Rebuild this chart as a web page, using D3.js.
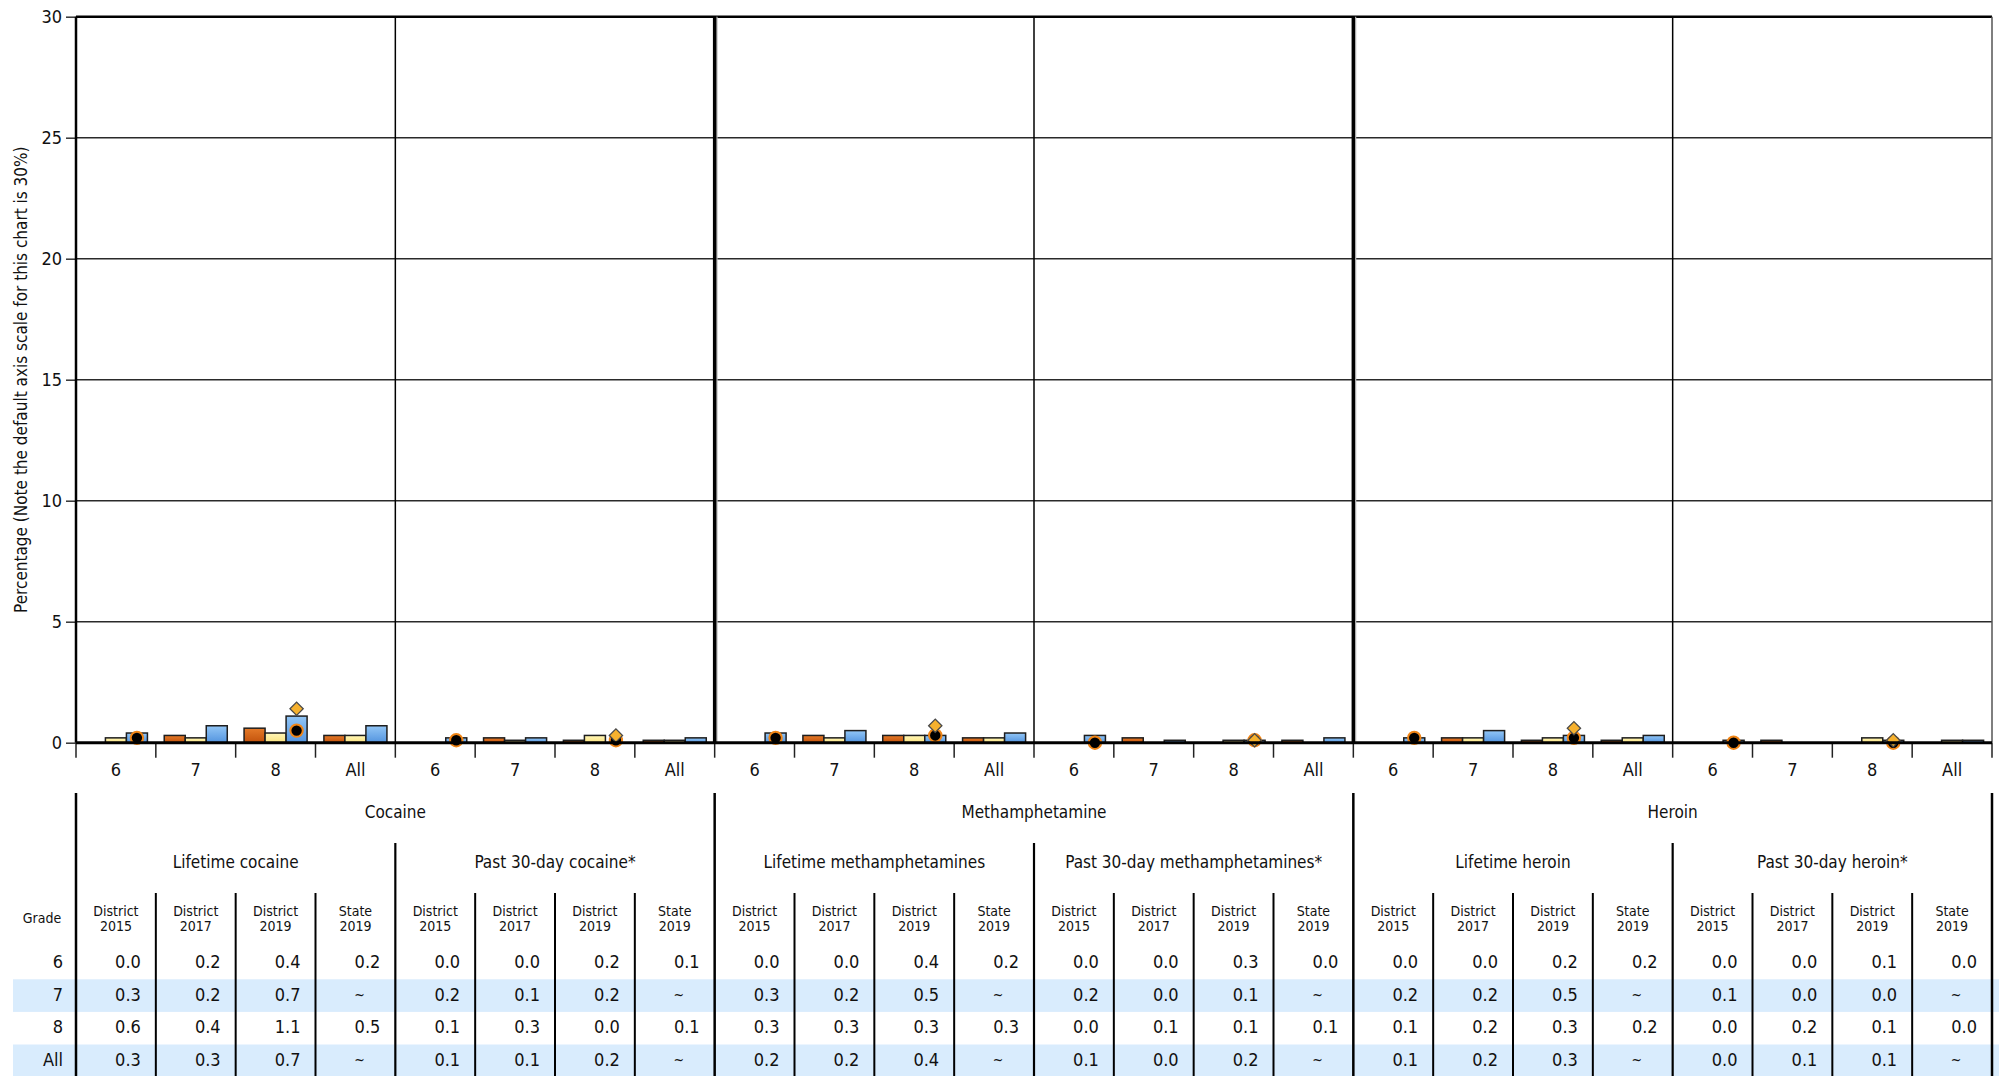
<!DOCTYPE html>
<html><head><meta charset="utf-8">
<script src="https://cdn.jsdelivr.net/npm/d3@7"></script>
<style>
html,body{margin:0;padding:0;background:#fff;}
svg{display:block;font-family:"Liberation Sans Narrow","DejaVu Sans Condensed",sans-serif;}
</style></head>
<body>
<svg id="chart" width="1999" height="1076"></svg>
<script>
// ---------- DATA ----------
const grades = ["6", "7", "8", "All"];
const series = ["District 2015", "District 2017", "District 2019", "State 2019"];
const drugs = ["Cocaine", "Methamphetamine", "Heroin"];
const measures = ["Lifetime cocaine", "Past 30-day cocaine*", "Lifetime methamphetamines",
  "Past 30-day methamphetamines*", "Lifetime heroin", "Past 30-day heroin*"];
const yTicks = [0, 5, 10, 15, 20, 25, 30];
// values[grade][series]; null = "~"
const lifetimeCocaine = [[0.0, 0.2, 0.4, 0.2], [0.3, 0.2, 0.7, null], [0.6, 0.4, 1.1, 0.5], [0.3, 0.3, 0.7, null]];
const past30Cocaine   = [[0.0, 0.0, 0.2, 0.1], [0.2, 0.1, 0.2, null], [0.1, 0.3, 0.0, 0.1], [0.1, 0.1, 0.2, null]];
const lifetimeMeth    = [[0.0, 0.0, 0.4, 0.2], [0.3, 0.2, 0.5, null], [0.3, 0.3, 0.3, 0.3], [0.2, 0.2, 0.4, null]];
const past30Meth      = [[0.0, 0.0, 0.3, 0.0], [0.2, 0.0, 0.1, null], [0.0, 0.1, 0.1, 0.1], [0.1, 0.0, 0.2, null]];
const lifetimeHeroin  = [[0.0, 0.0, 0.2, 0.2], [0.2, 0.2, 0.5, null], [0.1, 0.2, 0.3, 0.2], [0.1, 0.2, 0.3, null]];
const past30Heroin    = [[0.0, 0.0, 0.1, 0.0], [0.1, 0.0, 0.0, null], [0.0, 0.2, 0.1, 0.0], [0.0, 0.1, 0.1, null]];
// comparison marker (diamond) shown for grade 8 only
const national8 = [1.4, 0.3, 0.7, 0.1, 0.6, 0.1];

const tableData = [lifetimeCocaine, past30Cocaine, lifetimeMeth, past30Meth, lifetimeHeroin, past30Heroin];

// ---------- LAYOUT ----------
const FONT = "'Liberation Sans Narrow','DejaVu Sans Condensed',sans-serif";
const svg = d3.select("#chart");
const X0 = 76, X1 = 1992, YT = 16.7, YB = 742.7;
const y = d3.scaleLinear().domain([0, 30]).range([YB, YT]);
const xPanel = d3.scaleBand().domain(measures).range([X0, X1]);
const pw = xPanel.bandwidth();
const xGrade = d3.scaleBand().domain(grades).range([0, pw]);
const gw = xGrade.bandwidth();
const xSeries = d3.scaleBand().domain(series.slice(0, 3)).range([0, gw]).paddingInner(0).paddingOuter(0.4);
const xDrug = d3.scaleBand().domain(drugs).range([X0, X1]);

const defs = svg.append("defs");
const grads = [["g0", "#e57a28", "#c2520c"], ["g1", "#fff6b8", "#fbe37e"], ["g2", "#92c6f6", "#5394df"]];
grads.forEach(([id, c1, c2]) => {
  const lg = defs.append("linearGradient").attr("id", id).attr("x1", 0).attr("y1", 0).attr("x2", 0).attr("y2", 1);
  lg.append("stop").attr("offset", "0%").attr("stop-color", c1);
  lg.append("stop").attr("offset", "100%").attr("stop-color", c2);
});

// gridlines
svg.append("g").selectAll("line").data(yTicks.filter(d => d > 0)).join("line")
  .attr("x1", X0).attr("x2", X1).attr("y1", d => y(d)).attr("y2", d => y(d))
  .attr("stroke", d => d === 30 ? "#000" : "#2a2a2a").attr("stroke-width", d => d === 30 ? 2.5 : 1.5);

// y axis
const yAxis = d3.axisLeft(y).tickValues(yTicks).tickSize(10).tickPadding(4).tickFormat(d3.format("d"));
const gy = svg.append("g").attr("transform", `translate(${X0},0)`).call(yAxis);
gy.select(".domain").remove();
gy.selectAll(".tick line").attr("stroke", "#333").attr("stroke-width", 1.5);
gy.selectAll(".tick text").attr("font-size", 18).attr("fill", "#111").attr("font-family", FONT);

svg.append("text").attr("transform", `translate(22,${(YT + YB) / 2}) rotate(-90)`)
  .attr("text-anchor", "middle").attr("dominant-baseline", "middle")
  .attr("font-size", 17).attr("fill", "#111")
  .text("Percentage (Note the default axis scale for this chart is 30%)");

// bars
measures.forEach((m, mi) => {
  const g = svg.append("g").attr("transform", `translate(${xPanel(m)},0)`);
  const vals = tableData[mi];
  grades.forEach((gr, gi) => {
    const gg = g.append("g").attr("transform", `translate(${xGrade(gr)},0)`);
    gg.selectAll("rect").data(series.slice(0, 3).map((s, si) => ({ s, si, v: vals[gi][si] }))).join("rect")
      .attr("x", d => xSeries(d.s)).attr("width", xSeries.bandwidth())
      .attr("y", d => y(d.v)).attr("height", d => y(0) - y(d.v))
      .attr("fill", d => `url(#g${d.si})`).attr("stroke", "#1e1e1e").attr("stroke-width", 1.5);
    const st = vals[gi][3];
    const cx = xSeries(series[2]) + xSeries.bandwidth() / 2;
    if (st !== null) {
      gg.append("circle").attr("cx", cx).attr("cy", y(st)).attr("r", 6.2)
        .attr("fill", "#000").attr("stroke", "#f08516").attr("stroke-width", 2);
    }
    if (gr === "8") {
      gg.append("path").attr("d", d3.symbol(d3.symbolSquare, 88)())
        .attr("transform", `translate(${cx},${y(national8[mi])}) rotate(45)`)
        .attr("fill", "#f6b12e").attr("stroke", "#4a4a4a").attr("stroke-width", 1.3);
    }
  });
  // grade labels and ticks
  const ax = d3.axisBottom(xGrade).tickSize(0).tickPadding(21);
  const ga = g.append("g").attr("transform", `translate(0,${YB})`).call(ax);
  ga.select(".domain").remove();
  ga.selectAll(".tick text").attr("font-size", 18).attr("fill", "#111").attr("font-family", FONT);
  g.append("g").selectAll("line").data(grades.slice(1)).join("line")
    .attr("x1", d => xGrade(d)).attr("x2", d => xGrade(d)).attr("y1", YB).attr("y2", YB + 15)
    .attr("stroke", "#222").attr("stroke-width", 1.5);
});

// panel dividers
const panelEdges = measures.map(m => xPanel(m)).concat([X1]);
panelEdges.forEach((px, i) => {
  const thick = (i % 2 === 0) && i < 6;
  if (thick && i > 0) {
    svg.append("line").attr("x1", px + 2.2).attr("x2", px + 2.2).attr("y1", YT).attr("y2", YB)
      .attr("stroke", "#bbb").attr("stroke-width", 1.5);
  }
  svg.append("line").attr("x1", px).attr("x2", px).attr("y1", YT).attr("y2", YB)
    .attr("stroke", i === 6 ? "#555" : "#000").attr("stroke-width", thick ? (i === 0 ? 2.5 : 3.5) : 1.5);
  svg.append("line").attr("x1", px).attr("x2", px).attr("y1", YB).attr("y2", YB + 15)
    .attr("stroke", "#222").attr("stroke-width", 1.5);
});
// zero axis
svg.append("line").attr("x1", X0).attr("x2", X1).attr("y1", YB).attr("y2", YB)
  .attr("stroke", "#000").attr("stroke-width", 3);

// ---------- TABLE ----------
const rowY0 = 963, rowH = 32.6;
const cw = pw / 4;
// stripes
[1, 3].forEach(ri => {
  svg.append("rect").attr("x", 13).attr("width", 1999 - 13)
    .attr("y", rowY0 + ri * rowH - rowH / 2).attr("height", rowH).attr("fill", "#d9ecfd");
});
// drug titles
drugs.forEach(d => {
  svg.append("text").attr("x", xDrug(d) + xDrug.bandwidth() / 2).attr("y", 813)
    .attr("text-anchor", "middle").attr("dominant-baseline", "middle").attr("font-size", 17).attr("fill", "#111").text(d);
});
measures.forEach((m, mi) => {
  const px = xPanel(m);
  svg.append("text").attr("x", px + pw / 2).attr("y", 863)
    .attr("text-anchor", "middle").attr("dominant-baseline", "middle").attr("font-size", 17).attr("fill", "#111").text(m);
  series.forEach((s, si) => {
    const cx = px + si * cw + cw / 2;
    const parts = s.split(" ");
    svg.append("text").attr("x", cx).attr("y", 912).attr("text-anchor", "middle").attr("dominant-baseline", "middle")
      .attr("font-size", 14).attr("fill", "#111").text(parts[0]);
    svg.append("text").attr("x", cx).attr("y", 927).attr("text-anchor", "middle").attr("dominant-baseline", "middle")
      .attr("font-size", 14).attr("fill", "#111").text(parts[1]);
    grades.forEach((gr, gi) => {
      const v = tableData[mi][gi][si];
      svg.append("text").attr("x", v === null ? cx + 4 : px + (si + 1) * cw - 15).attr("y", rowY0 + gi * rowH)
        .attr("text-anchor", v === null ? "middle" : "end").attr("dominant-baseline", "middle")
        .attr("font-size", v === null ? 14 : 18).attr("fill", "#111").text(v === null ? "~" : v.toFixed(1));
    });
  });
  // column lines
  [1, 2, 3].forEach(k => {
    svg.append("line").attr("x1", px + k * cw).attr("x2", px + k * cw).attr("y1", 893).attr("y2", 1076)
      .attr("stroke", "#000").attr("stroke-width", 2);
  });
  if (mi % 2 === 1) {
    svg.append("line").attr("x1", px).attr("x2", px).attr("y1", 843).attr("y2", 1076)
      .attr("stroke", "#000").attr("stroke-width", 2.2);
  }
});
[X0, xDrug("Methamphetamine"), xDrug("Heroin"), X1].forEach(px => {
  svg.append("line").attr("x1", px).attr("x2", px).attr("y1", 793).attr("y2", 1076)
    .attr("stroke", "#000").attr("stroke-width", 2.5);
});
svg.append("text").attr("x", 42).attr("y", 919).attr("text-anchor", "middle").attr("dominant-baseline", "middle")
  .attr("font-size", 14).attr("fill", "#111").text("Grade");
grades.forEach((gr, gi) => {
  svg.append("text").attr("x", 63).attr("y", rowY0 + gi * rowH).attr("text-anchor", "end").attr("dominant-baseline", "middle")
    .attr("font-size", 18).attr("fill", "#111").text(gr);
});
</script>
</body></html>
